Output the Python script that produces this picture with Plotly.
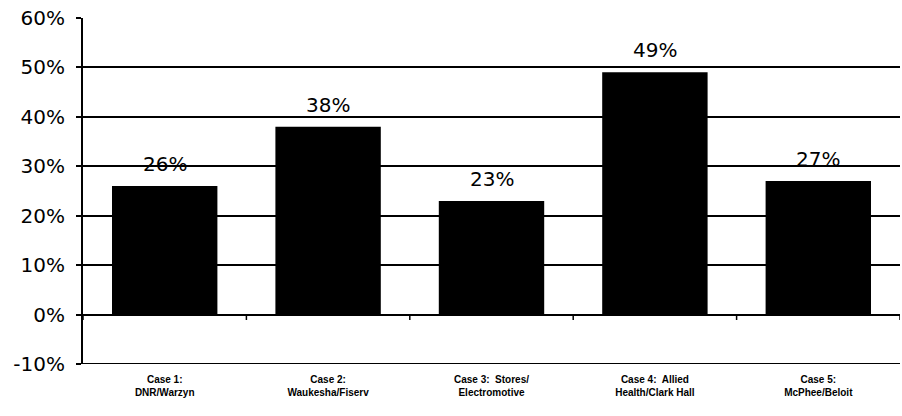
import plotly.graph_objects as go

categories = ["Case 1:<br>DNR/Warzyn", "Case 2:<br>Waukesha/Fiserv", "Case 3:  Stores/<br>Electromotive",
              "Case 4:  Allied<br>Health/Clark Hall", "Case 5:<br>McPhee/Beloit"]
values = [26, 38, 23, 49, 27]
value_labels = ["26%", "38%", "23%", "49%", "27%"]
y_ticks = [-10, 0, 10, 20, 30, 40, 50, 60]
y_tick_labels = ["-10%", "0%", "10%", "20%", "30%", "40%", "50%", "60%"]

FONT = "DejaVu Sans, Liberation Sans, Arial"
xs = list(range(len(categories)))

fig = go.Figure()
fig.add_trace(go.Bar(
    x=xs, y=values,
    marker=dict(color="black", line=dict(width=0)),
    width=0.645,
))

annotations = [
    dict(x=x, y=v, text=t, xref="x", yref="y", showarrow=False, yanchor="bottom",
         yshift=8, font=dict(family=FONT, size=20, color="black"))
    for x, v, t in zip(xs, values, value_labels)
]

shapes = []
# small tick marks on the 0% line between categories
for i in range(len(categories) + 1):
    shapes.append(dict(type="line", xref="x", yref="y", x0=i - 0.5, x1=i - 0.5, y0=0, y1=-1.1,
                       line=dict(color="black", width=1.5)))
shapes.append(dict(type="line", xref="paper", yref="y", x0=0, x1=1, y0=-10, y1=-10,
                   line=dict(color="black", width=2)))

fig.update_layout(
    width=902, height=416,
    margin=dict(l=83, r=2, t=18, b=52, autoexpand=False),
    plot_bgcolor="white", paper_bgcolor="white",
    showlegend=False,
    font=dict(family=FONT, color="black"),
    annotations=annotations,
    shapes=shapes,
)
fig.update_yaxes(
    range=[-10, 60], tickvals=y_ticks, ticktext=y_tick_labels,
    showgrid=True, gridcolor="black", gridwidth=1.6,
    zeroline=True, zerolinecolor="black", zerolinewidth=2,
    showline=True, linecolor="black", linewidth=2,
    ticks="outside", ticklen=5, tickcolor="black", tickwidth=1.6,
    tickfont=dict(size=20, family=FONT),
    ticklabelstandoff=7, automargin=False,
)
fig.update_xaxes(
    range=[-0.5, len(categories) - 0.5],
    tickvals=xs, ticktext=categories,
    showgrid=False, zeroline=False, showline=False, ticks="",
    tickfont=dict(size=10, family="Liberation Sans, Arial", weight="bold"),
    ticklabelstandoff=8, automargin=False,
)

fig.write_html("out.html", config={"displayModeBar": False},
               post_script="document.body.style.margin='0';")
